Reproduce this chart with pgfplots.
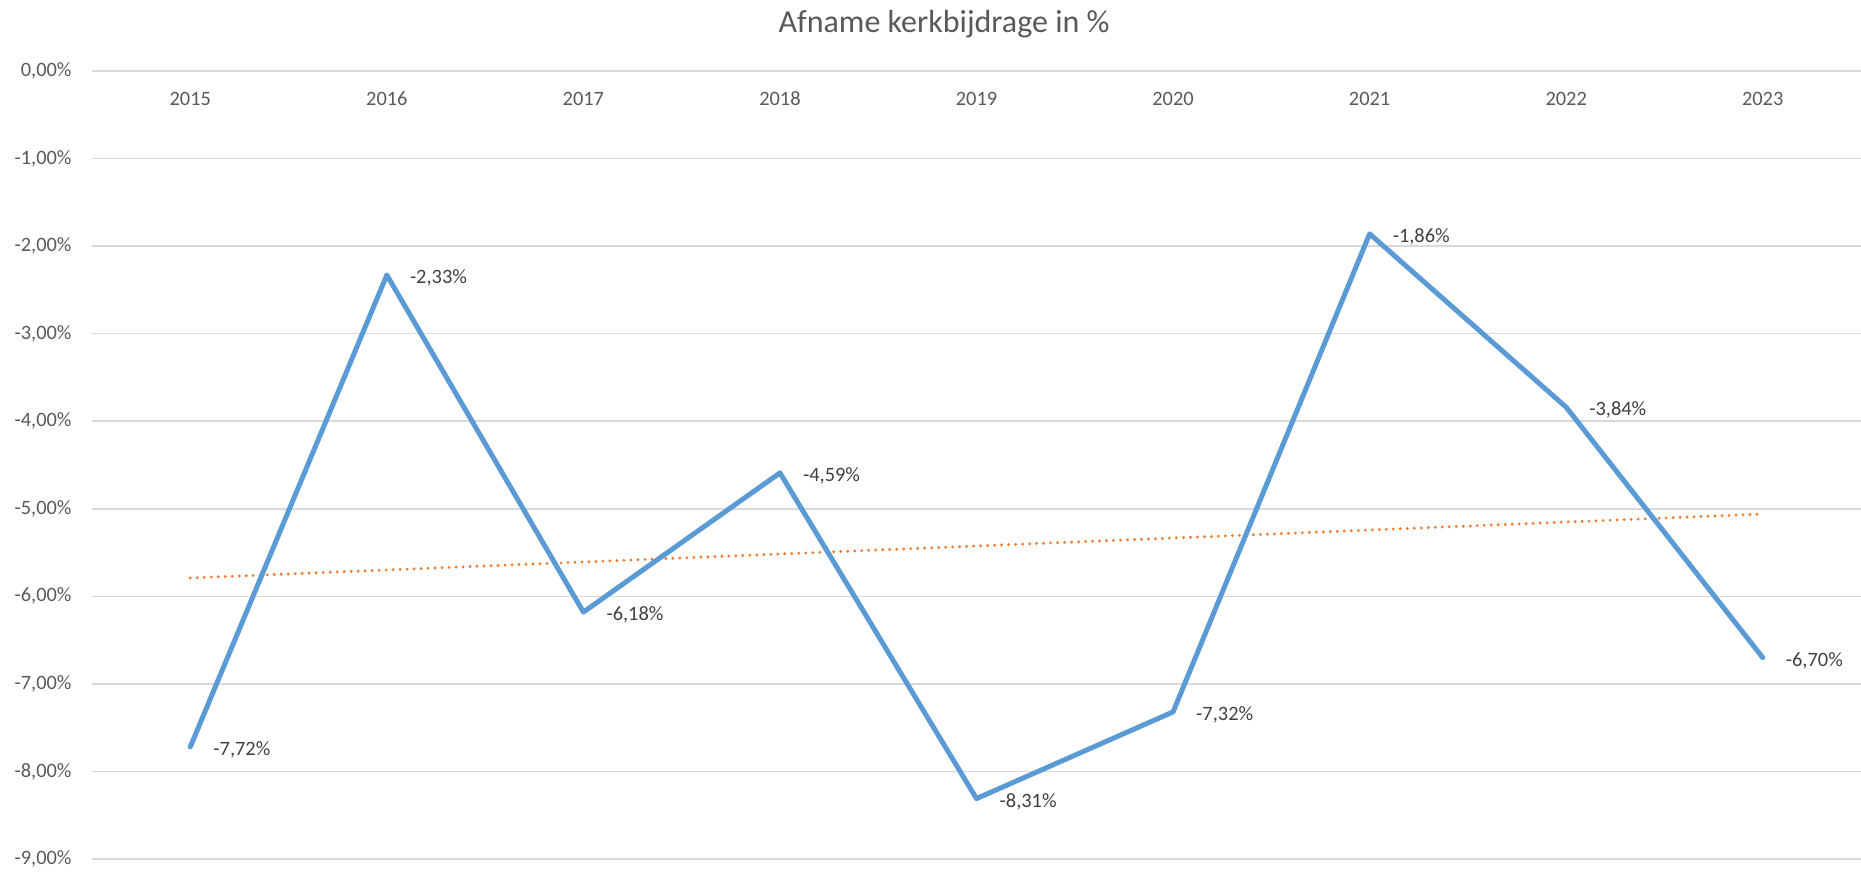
\documentclass[border=0pt]{standalone}
\usepackage{pgfplots}
\pgfplotsset{compat=1.18}
\usepackage{fontspec}
\setmainfont{Carlito}
\definecolor{lineblue}{HTML}{5B9BD5}
\definecolor{trendorange}{HTML}{ED7D31}
\definecolor{txtgray}{HTML}{595959}
\definecolor{lblgray}{HTML}{404040}
\definecolor{gridgray}{HTML}{D9D9D9}
\begin{document}
\begin{tikzpicture}
\useasboundingbox (0,0) rectangle (930.5pt,436pt);
\node[anchor=base, text=txtgray, font=\fontsize{16}{19}\selectfont] at (472pt,419.5pt) {Afname kerkbijdrage in \%};
\begin{axis}[
  at={(46pt,6.5pt)}, anchor=south west,
  scale only axis, width=884.5pt, height=394pt,
  xmin=-0.5, xmax=8.5, ymin=-9, ymax=0,
  axis line style={draw=none},
  major tick length=0pt,
  xtick={0,1,2,3,4,5,6,7,8},
  xticklabels={2015,2016,2017,2018,2019,2020,2021,2022,2023},
  xticklabel pos=upper,
  xticklabel style={anchor=center, yshift=-14pt, font=\fontsize{10.2}{12}\selectfont, text=txtgray},
  ytick={-9,-8,-7,-6,-5,-4,-3,-2,-1,0},
  yticklabels={{-9,00\%},{-8,00\%},{-7,00\%},{-6,00\%},{-5,00\%},{-4,00\%},{-3,00\%},{-2,00\%},{-1,00\%},{0,00\%}},
  yticklabel style={xshift=-6.7pt, font=\fontsize{10.2}{12}\selectfont, text=txtgray},
  ymajorgrids,
  major grid style={gridgray, line width=0.75pt},
  clip=false,
]
\addplot[trendorange, line width=1.6pt, dash pattern=on 0pt off 3.5pt, line cap=round] coordinates {(0,-5.79) (8,-5.06)};
\addplot[lineblue, line width=2.5pt, line join=round, line cap=round,
  point meta=explicit symbolic,
  nodes near coords,
  nodes near coords style={anchor=west, xshift=7pt, yshift=-1.5pt, text=lblgray, font=\fontsize{10.2}{12}\selectfont}]
coordinates {
(0,-7.72) [-7,72\%]
(1,-2.33) [-2,33\%]
(2,-6.18) [-6,18\%]
(3,-4.59) [-4,59\%]
(4,-8.31) [-8,31\%]
(5,-7.32) [-7,32\%]
(6,-1.86) [-1,86\%]
(7,-3.84) [-3,84\%]
(8,-6.70) [-6,70\%]
};
\end{axis}
\end{tikzpicture}
\end{document}
